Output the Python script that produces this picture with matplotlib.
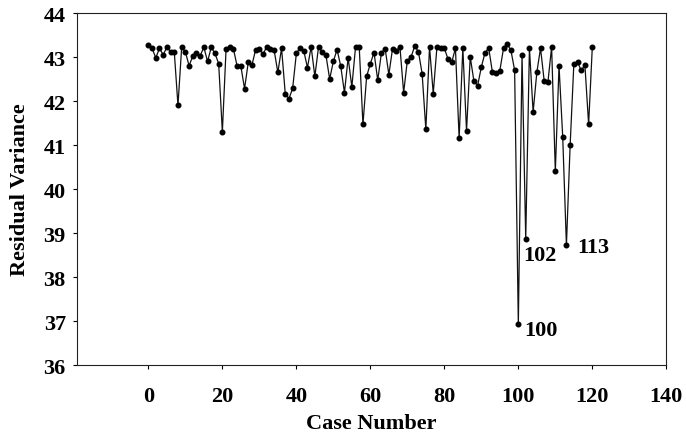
import matplotlib
matplotlib.use("Agg")
import matplotlib.pyplot as plt

# case numbers and residual variance
cases = list(range(0, 121))
resid_var = [
    43.27, 43.20, 42.98, 43.20, 43.05, 43.22, 43.12, 43.12, 41.90, 43.22,  # 0-9
    43.12, 42.80, 43.02, 43.10, 43.03, 43.22, 42.90, 43.22, 43.08, 42.85,  # 10-19
    41.30, 43.18, 43.22, 43.18, 42.79, 42.79, 42.28, 42.88, 42.82, 43.17,  # 20-29
    43.18, 43.07, 43.23, 43.18, 43.15, 42.65, 43.20, 42.17, 42.05, 42.29,  # 30-39
    43.08, 43.21, 43.14, 42.76, 43.23, 42.56, 43.23, 43.11, 43.04, 42.50,  # 40-49
    42.90, 43.17, 42.79, 42.19, 42.98, 42.32, 43.23, 43.22, 41.47, 42.56,  # 50-59
    42.85, 43.10, 42.47, 43.10, 43.19, 42.60, 43.19, 43.14, 43.23, 42.19,  # 60-69
    42.92, 43.00, 43.25, 43.12, 42.62, 41.36, 43.23, 42.17, 43.23, 43.20,  # 70-79
    43.20, 42.95, 42.88, 43.20, 41.15, 43.20, 41.32, 43.00, 42.45, 42.35,  # 80-89
    42.77, 43.10, 43.20, 42.65, 42.64, 42.69, 43.20, 43.30, 43.15, 42.70,  # 90-99
    36.93, 43.05, 38.87, 43.20, 41.75, 42.65, 43.20, 42.45, 42.43, 43.23,  # 100-109
    40.40, 42.80, 41.18, 38.72, 40.99, 42.83, 42.88, 42.70, 42.81, 41.47,  # 110-119
    43.23,                                                                 # 120
]
flagged = [100, 102, 113]
# label offsets in points (dx, dy) relative to the flagged point
flag_offsets = [(4, -4), (-2, -12), (8, -1)]

xticks = [0, 20, 40, 60, 80, 100, 120, 140]
yticks = [36, 37, 38, 39, 40, 41, 42, 43, 44]

plt.rcParams["font.family"] = ["Liberation Serif", "DejaVu Serif"]
plt.rcParams["font.weight"] = "bold"

fig = plt.figure(figsize=(6.86, 4.35), dpi=100)
ax = fig.add_axes([0.1122, 0.1586, 0.9713 - 0.1122, 0.9678 - 0.1586])

ax.plot(cases, resid_var, color="#111", lw=0.9, marker="o", ms=3.3,
        mfc="black", mec="black", zorder=3)

for c, (dx, dy) in zip(flagged, flag_offsets):
    ax.annotate(str(c), xy=(c, resid_var[cases.index(c)]), xytext=(dx, dy),
                textcoords="offset points", ha="left", va="center",
                fontsize=16, fontweight="bold")

ax.set_xlim(-19.3, 140)
ax.set_ylim(36, 44)
ax.set_xticks(xticks)
ax.set_yticks(yticks)
ax.tick_params(direction="out", length=3, width=0.8, labelsize=16)
ax.tick_params(axis="x", pad=12)
ax.tick_params(axis="y", pad=5)
for lb in ax.get_xticklabels() + ax.get_yticklabels():
    lb.set_fontweight("bold")
for sp in ax.spines.values():
    sp.set_linewidth(0.8)
    sp.set_color("#222")

ax.set_xlabel("Case Number", fontsize=16, fontweight="bold", labelpad=5)
ax.set_ylabel("Residual Variance", fontsize=16, fontweight="bold", labelpad=10)

fig.savefig("out.png", dpi=100)
